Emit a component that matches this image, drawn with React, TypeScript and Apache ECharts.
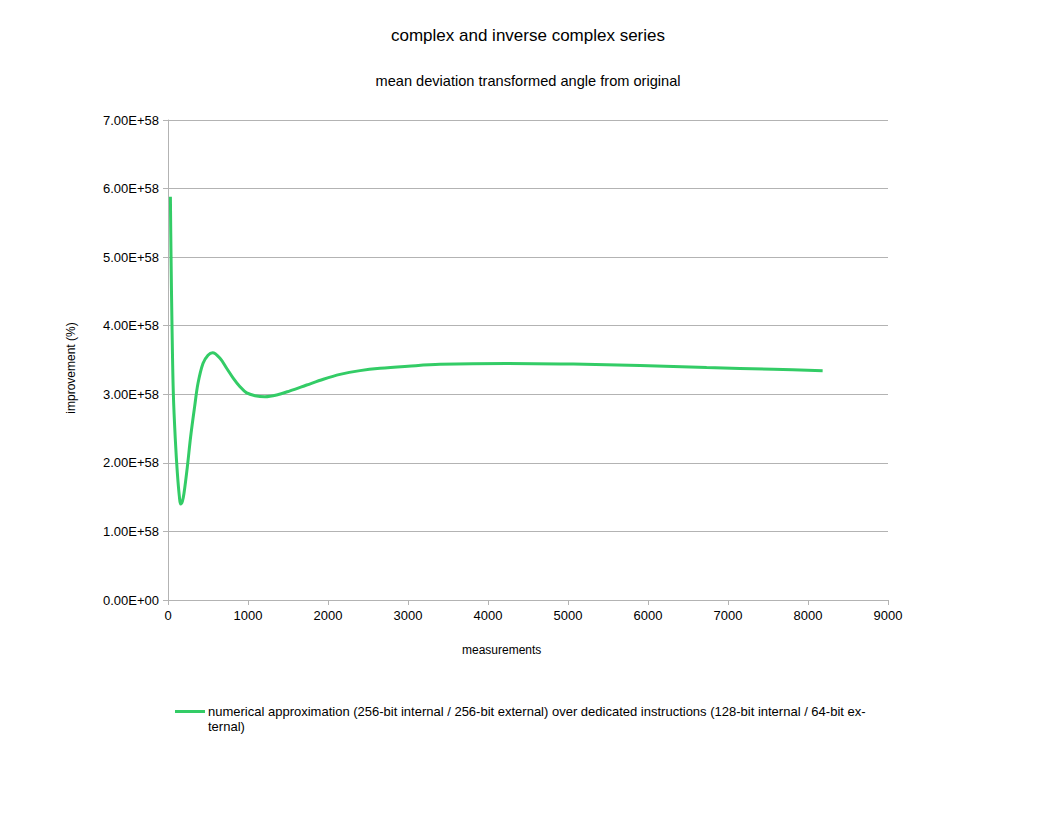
import React, { useEffect, useRef } from "react";
import * as echarts from "echarts";

const titleText = "complex and inverse complex series";
const subtitleText = "mean deviation transformed angle from original";
const xAxisName = "measurements";
const yAxisName = "improvement (%)";
const seriesName =
  "numerical approximation (256-bit internal / 256-bit external) over dedicated instructions (128-bit internal / 64-bit external)";

const xValues = [
  30, 38, 50, 67, 92, 117, 142, 158, 180, 200, 242, 283, 333, 375, 437, 500, 558, 650, 733, 817, 900,
  983, 1088, 1212, 1358, 1525, 1733, 1942, 2150, 2400, 2650, 3000, 3400, 4233, 5067, 5900, 6733, 7567,
  8183,
];
const yValues = [
  5.88, 5.0, 4.0, 3.0, 2.33, 1.85, 1.51, 1.4, 1.44, 1.556, 1.944, 2.38, 2.82, 3.16, 3.45, 3.57, 3.607,
  3.525, 3.38, 3.233, 3.11, 3.02, 2.98, 2.965, 2.99, 3.05, 3.135, 3.22, 3.29, 3.345, 3.38, 3.41, 3.437,
  3.45, 3.44, 3.42, 3.39, 3.365, 3.345,
];
const yScale = 1e58;

export default function App() {
  const ref = useRef<HTMLDivElement>(null);
  useEffect(() => {
    if (!ref.current) return;
    const chart = echarts.init(ref.current, null, { renderer: "svg" });
    const data = xValues.map((x, i) => [x, yValues[i] * yScale]);
    const font = "'Liberation Sans', Arial, sans-serif";
    chart.setOption({
      animation: false,
      backgroundColor: "#ffffff",
      textStyle: { fontFamily: font },
      title: [
        {
          text: titleText,
          left: "center",
          top: 22,
          textStyle: { fontFamily: font, fontSize: 17, fontWeight: "normal", color: "#000" },
        },
        {
          text: subtitleText,
          left: "center",
          top: 68,
          textStyle: { fontFamily: font, fontSize: 14.6, fontWeight: "normal", color: "#000" },
        },
      ],
      grid: { left: 168, right: 168, top: 120, bottom: 216, containLabel: false },
      xAxis: {
        type: "value",
        min: 0,
        max: 9000,
        interval: 1000,
        axisLine: { show: true, lineStyle: { color: "#b3b3b3" } },
        axisTick: { show: true, inside: false, length: 5, lineStyle: { color: "#b3b3b3" } },
        axisLabel: {
          color: "#000",
          fontSize: 13,
          fontFamily: font,
          margin: 9,
          formatter: (v: number) => String(v),
        },
        splitLine: { show: false },
      },
      yAxis: {
        type: "value",
        min: 0,
        max: 7 * yScale,
        interval: yScale,
        axisLine: { show: true, lineStyle: { color: "#b3b3b3" } },
        axisTick: { show: true, inside: false, length: 5, lineStyle: { color: "#b3b3b3" } },
        axisLabel: {
          color: "#000",
          fontSize: 13,
          fontFamily: font,
          margin: 9,
          formatter: (v: number) => (v === 0 ? "0.00E+00" : (v / yScale).toFixed(2) + "E+58"),
        },
        splitLine: { show: true, lineStyle: { color: "#b3b3b3", width: 1 } },
      },
      legend: {
        left: 175,
        top: 704,
        padding: 0,
        icon: "path://M0,0L0.01,0L0.01,0.01Z M0,6L30,6L30,9L0,9Z M0,30L0.01,30L0.01,29.99Z",
        itemWidth: 30,
        itemHeight: 30,
        itemGap: 4,
        itemStyle: { borderWidth: 0 },
        data: [seriesName],
        formatter: () =>
          "numerical approximation (256-bit internal / 256-bit external) over dedicated instructions (128-bit internal / 64-bit ex-\nternal)",
        textStyle: {
          fontFamily: font,
          fontSize: 13,
          color: "#000",
          lineHeight: 15,
          padding: [0, 0, 0, -2],
        },
      },
      graphic: [
        {
          type: "text",
          left: 462,
          top: 644,
          style: { text: xAxisName, fontFamily: font, fontSize: 12, fill: "#000" },
        },
        {
          type: "text",
          x: 71,
          y: 368,
          rotation: Math.PI / 2,
          style: {
            text: yAxisName,
            fontFamily: font,
            fontSize: 12,
            fill: "#000",
            align: "center",
            verticalAlign: "middle",
          },
        },
      ],
      series: [
        {
          name: seriesName,
          type: "line",
          data,
          smooth: 0.35,
          showSymbol: false,
          symbol: "none",
          lineStyle: { color: "#33cc66", width: 3 },
          itemStyle: { color: "#33cc66" },
        },
      ],
    });
    return () => chart.dispose();
  }, []);
  return (
    <div
      ref={ref}
      style={{ position: "fixed", left: 0, top: 0, width: 1056, height: 816 }}
    />
  );
}
